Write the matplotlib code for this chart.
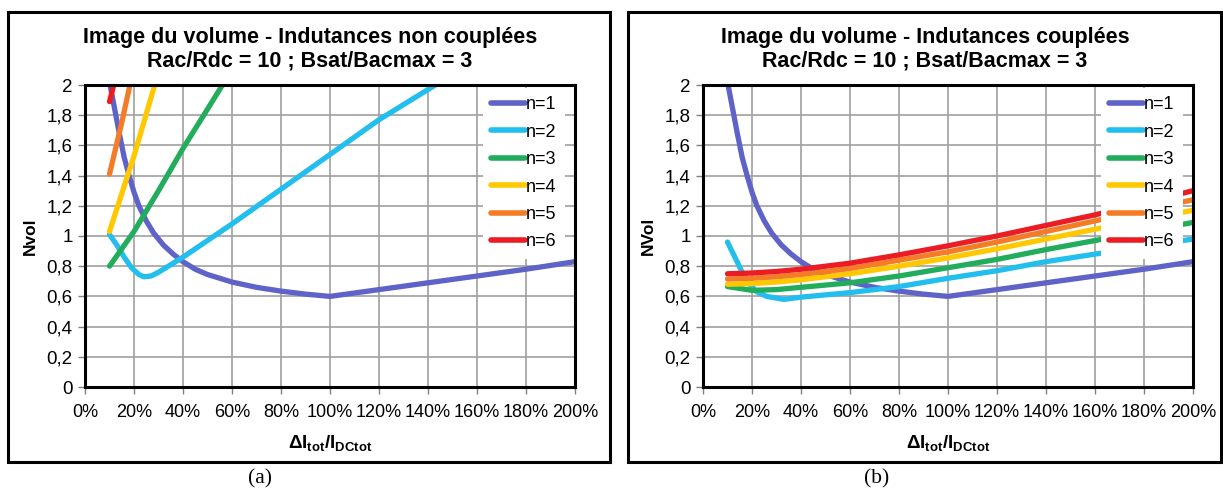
import numpy as np
import matplotlib
matplotlib.use("Agg")
import matplotlib.pyplot as plt
from matplotlib.patches import Rectangle

plt.rcParams['font.family'] = ['Liberation Sans', 'DejaVu Sans']
plt.rcParams['mathtext.fontset'] = 'custom'
plt.rcParams['mathtext.rm'] = 'Liberation Sans'
plt.rcParams['mathtext.bf'] = 'Liberation Sans:bold'

# ---- data (x = dI/I as fraction, y = Nvol) ----
labels = ['n=1', 'n=2', 'n=3', 'n=4', 'n=5', 'n=6']
colors = ['#5F62C6', '#22BEEE', '#21AD5B', '#FFC800', '#F47C26', '#EC1C24']

# n=1 is the same curve in both panels
n1_x = [0.10, 0.12, 0.14, 0.16, 0.18, 0.20, 0.22, 0.25, 0.28, 0.32, 0.36, 0.40, 0.45, 0.50,
        0.60, 0.70, 0.80, 0.90, 1.0, 1.2, 1.4, 1.6, 1.8, 2.0]
n1_y = [2.02, 1.85, 1.68, 1.52, 1.40, 1.29, 1.20, 1.10, 1.02, 0.94, 0.88, 0.83, 0.78, 0.745,
        0.695, 0.66, 0.635, 0.615, 0.60, 0.645, 0.69, 0.735, 0.78, 0.83]

# (a) non-coupled inductances
a_x2 = [0.10, 0.13, 0.16, 0.19, 0.22, 0.24, 0.27, 0.3, 0.35, 0.4, 0.6, 0.8, 1.0, 1.2, 1.4, 1.46]
a_y2 = [1.01, 0.94, 0.86, 0.79, 0.745, 0.73, 0.735, 0.76, 0.81, 0.86, 1.08, 1.31, 1.54, 1.77, 1.97, 2.03]
a_x3 = [0.10, 0.2, 0.3, 0.4, 0.5, 0.58]
a_y3 = [0.80, 1.03, 1.30, 1.58, 1.84, 2.05]
a_x4 = [0.10, 0.2, 0.29]
a_y4 = [1.03, 1.53, 2.03]
a_x5 = [0.10, 0.15, 0.19]
a_y5 = [1.41, 1.75, 2.05]
a_x6 = [0.10, 0.125]
a_y6 = [1.89, 2.05]

# (b) coupled inductances
b_x = [0.1, 0.2, 0.3, 0.4, 0.6, 0.8, 1.0, 1.2, 1.4, 1.6, 1.8, 2.0]
b_x2 = [0.10, 0.13, 0.16, 0.19, 0.22, 0.26, 0.33, 0.4, 0.6, 0.8, 1.0, 1.2, 1.4, 1.6, 1.8, 2.0]
b_y2 = [0.96, 0.86, 0.76, 0.68, 0.63, 0.60, 0.58, 0.595, 0.625, 0.665, 0.72, 0.77, 0.83, 0.88, 0.93, 0.98]
b_y3 = [0.665, 0.64, 0.645, 0.66, 0.69, 0.735, 0.79, 0.845, 0.91, 0.97, 1.03, 1.09]
b_y4 = [0.68, 0.685, 0.695, 0.71, 0.75, 0.80, 0.855, 0.915, 0.98, 1.045, 1.11, 1.17]
b_y5 = [0.715, 0.72, 0.73, 0.745, 0.785, 0.84, 0.895, 0.96, 1.03, 1.10, 1.17, 1.24]
b_y6 = [0.75, 0.755, 0.765, 0.78, 0.82, 0.875, 0.935, 1.00, 1.07, 1.14, 1.22, 1.30]

x_ticks = np.arange(0, 2.01, 0.2)
x_ticklabels = ['0%', '20%', '40%', '60%', '80%', '100%', '120%', '140%', '160%', '180%', '200%']
y_ticks = np.arange(0, 2.01, 0.2)
y_ticklabels = ['0', '0,2', '0,4', '0,6', '0,8', '1', '1,2', '1,4', '1,6', '1,8', '2']

W, H = 1223, 493
fig = plt.figure(figsize=(W / 100, H / 100), dpi=100)


def px(x0, y0, x1, y1):
    """pixel box -> figure fraction rect"""
    return [x0 / W, 1 - y1 / H, (x1 - x0) / W, (y1 - y0) / H]


def style_axes(ax, ylabel, title1, title2, cx):
    ax.set_xlim(0, 2)
    ax.set_ylim(0, 2)
    ax.set_xticks(x_ticks)
    ax.set_xticklabels(x_ticklabels, fontsize=13)
    ax.set_yticks(y_ticks)
    ax.set_yticklabels(y_ticklabels, fontsize=13.5)
    ax.grid(True, color='#a0a0a0', linewidth=1.2)
    ax.set_axisbelow(True)
    for s in ax.spines.values():
        s.set_linewidth(2.2)
        s.set_color('black')
    ax.tick_params(length=5, width=1, color='#808080', pad=4)
    ax.tick_params(axis='x', pad=7)
    ax.set_ylabel(ylabel, fontsize=12.5, fontweight='bold', labelpad=6)
    ax.set_xlabel(r'$\mathbf{\Delta I_{tot}/I_{DCtot}}$', fontsize=13.5, labelpad=9)
    fig.text(cx / W, 1 - 37 / H, title1, ha='center', va='center', fontsize=15.5, fontweight='bold')
    fig.text(cx / W, 1 - 61 / H, title2, ha='center', va='center', fontsize=15.5, fontweight='bold')
    leg = ax.legend(loc='upper right', bbox_to_anchor=(1 - 10 / 490, 1 - 3 / 302), fontsize=13,
                    handlelength=1.9, handletextpad=0.05, labelspacing=0.58,
                    borderpad=0.45, borderaxespad=0, frameon=True, fancybox=False)
    leg.get_frame().set_facecolor('white')
    leg.get_frame().set_edgecolor('none')
    leg.get_frame().set_alpha(1.0)
    for h in leg.get_lines():
        h.set_linewidth(4)
        h.set_solid_capstyle('round')


lw = 3.8
ax_a = fig.add_axes(px(85, 85, 575, 387))
a_series = [(n1_x, n1_y), (a_x2, a_y2), (a_x3, a_y3), (a_x4, a_y4), (a_x5, a_y5), (a_x6, a_y6)]
for (xs, ys), c, lab in zip(a_series, colors, labels):
    ax_a.plot(xs, ys, color=c, lw=lw, label=lab, solid_capstyle='round', solid_joinstyle='round')
style_axes(ax_a, 'Nvol', 'Image du volume - Indutances non couplées',
           'Rac/Rdc = 10 ; Bsat/Bacmax = 3', 310)

ax_b = fig.add_axes(px(703, 85, 1193, 387))
b_series = [(n1_x, n1_y), (b_x2, b_y2), (b_x, b_y3), (b_x, b_y4), (b_x, b_y5), (b_x, b_y6)]
for (xs, ys), c, lab in zip(b_series, colors, labels):
    ax_b.plot(xs, ys, color=c, lw=lw, label=lab, solid_capstyle='round', solid_joinstyle='round')
style_axes(ax_b, 'NVol', 'Image du volume - Indutances couplées',
           'Rac/Rdc = 10 ; Bsat/Bacmax = 3', 925)

# panel frames
for rect in (px(8, 12, 610, 462), px(628, 12, 1221, 462)):
    fig.patches.append(Rectangle((rect[0], rect[1]), rect[2], rect[3], transform=fig.transFigure,
                                 fill=False, edgecolor='black', linewidth=2.2))

fig.text(260 / W, 1 - 479 / H, '(a)', ha='center', va='center', fontsize=15.5, family='Liberation Serif')
fig.text(877 / W, 1 - 479 / H, '(b)', ha='center', va='center', fontsize=15.5, family='Liberation Serif')

fig.savefig('out.png', dpi=100)
